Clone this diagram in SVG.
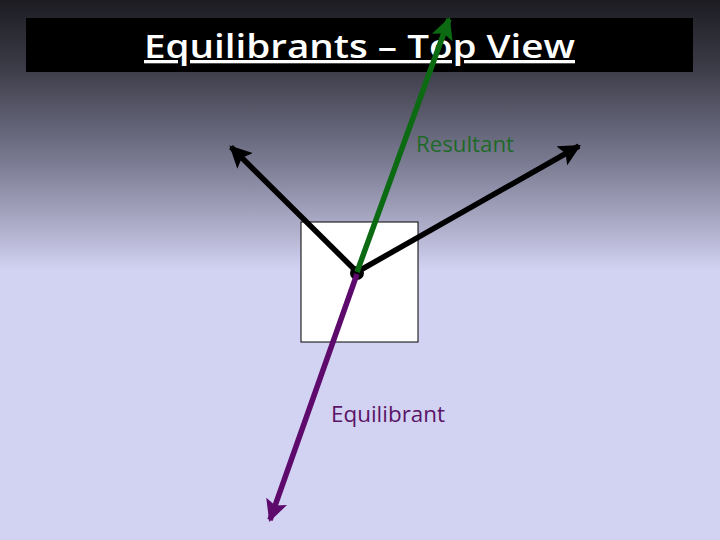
<svg xmlns="http://www.w3.org/2000/svg" width="720" height="540" viewBox="0 0 720 540">
<style>
.lbl{font-family:"Open Sans","Liberation Sans",sans-serif;font-size:21px}
.arr{stroke-width:5.5;fill:none;stroke-linecap:butt}
</style>
<defs>
<linearGradient id="bg" x1="0" y1="0" x2="0" y2="1">
<stop offset="0" stop-color="#1c1c22"/>
<stop offset="0.12" stop-color="#3a3a46"/>
<stop offset="0.3" stop-color="#7a7a92"/>
<stop offset="0.42" stop-color="#aeaeca"/>
<stop offset="0.5" stop-color="#d2d2f2"/>
<stop offset="1" stop-color="#d2d2f2"/>
</linearGradient>
<marker id="hk" viewBox="0 0 10 10" refX="9" refY="5" markerWidth="4" markerHeight="4" orient="auto" markerUnits="strokeWidth"><path d="M0,0 L10,5 L0,10 L2,5 Z" fill="#000"/></marker>
<marker id="hg" viewBox="0 0 10 10" refX="9" refY="5" markerWidth="4" markerHeight="4" orient="auto" markerUnits="strokeWidth"><path d="M0,0 L10,5 L0,10 L2,5 Z" fill="#0b6a12"/></marker>
<marker id="hp" viewBox="0 0 10 10" refX="9" refY="5" markerWidth="4" markerHeight="4" orient="auto" markerUnits="strokeWidth"><path d="M0,0 L10,5 L0,10 L2,5 Z" fill="#5e0a6c"/></marker>
</defs>
<rect width="720" height="540" fill="url(#bg)"/>
<g id="title">
<rect x="26" y="18" width="667" height="54" fill="#000"/>
<text x="144" y="58" font-family="'Open Sans','Liberation Sans',sans-serif" font-size="33" font-weight="600" fill="#fff" text-decoration="underline" textLength="431" lengthAdjust="spacingAndGlyphs">Equilibrants – Top View</text>
</g>
<g id="box">
<rect x="301" y="222" width="117" height="120" fill="#fff" stroke="#000" stroke-width="1"/>
</g>
<g id="connectors">
<line class="arr" x1="357" y1="272" x2="231" y2="147" stroke="#000" marker-end="url(#hk)"/>
<line class="arr" x1="357" y1="272" x2="579" y2="146" stroke="#000" marker-end="url(#hk)"/>
<circle cx="357" cy="273" r="7" fill="#000"/>
<line class="arr" x1="357" y1="272" x2="449" y2="19" stroke="#0b6a12" marker-end="url(#hg)"/>
<line class="arr" x1="357" y1="274" x2="270" y2="520" stroke="#5e0a6c" marker-end="url(#hp)"/>
</g>
<g id="resultant-label">
<text class="lbl" x="416" y="152" fill="#1e6a28" textLength="98" lengthAdjust="spacingAndGlyphs">Resultant</text>
</g>
<g id="equilibrant-label">
<text class="lbl" x="331" y="422" fill="#5a1466" textLength="114" lengthAdjust="spacingAndGlyphs">Equilibrant</text>
</g>
</svg>
